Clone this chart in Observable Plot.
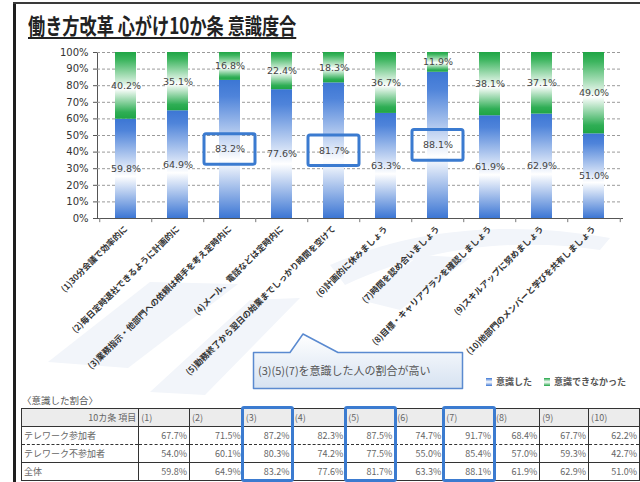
<!DOCTYPE html>
<html><head><meta charset="utf-8">
<script src="https://cdn.jsdelivr.net/npm/d3@7"></script>
<script src="https://cdn.jsdelivr.net/npm/@observablehq/plot@0.6"></script>
<style>
html,body{margin:0;padding:0;background:#fff;}
#page{position:relative;width:640px;height:482px;overflow:hidden;background:#fff;font-family:"Noto Sans CJK JP",sans-serif;}
#bg{position:absolute;left:0;top:0;}
#frameL{position:absolute;left:13px;top:2px;width:3px;height:480px;background:#1e1e1e;}
#frameT{position:absolute;left:13px;top:2px;width:627px;height:2px;background:#3a3a3a;}
#title{position:absolute;left:28px;top:8px;font-size:22px;font-weight:bold;color:#222;white-space:nowrap;text-decoration:underline;text-underline-offset:3px;transform:scaleX(0.78);transform-origin:left top;}
#chart{position:absolute;left:0;top:40px;}
#chart [aria-label^="y-axis"] text{font-size:10px;font-family:"DejaVu Sans",sans-serif;fill:#333;}
#chart [aria-label^="x-axis"] text{font-size:8.5px;font-weight:bold;fill:#333;}
#callout{position:absolute;left:0;top:0;pointer-events:none;}
#legend{position:absolute;left:486px;top:375px;font-size:9px;font-weight:bold;color:#555;white-space:nowrap;}
#legend .sw{display:inline-block;width:6px;height:8px;margin-right:4px;vertical-align:-1px;}
#legend .sw.blue{background:linear-gradient(#3c76d4,#fff,#3c76d4);}
#legend .sw.green{background:linear-gradient(#1fa545,#fff,#1fa545);margin-left:12px;}
#tableTitle{position:absolute;left:22px;top:393px;font-size:9.5px;color:#555;}
#tbl{position:absolute;left:21px;top:408px;border-collapse:collapse;table-layout:fixed;font-size:9px;color:#666;}
#tbl td{border:1px solid #333;padding:0 2px;height:17px;line-height:15px;white-space:nowrap;overflow:hidden;}
#tbl tr.h td{background:#ececec;border-bottom:1.5px solid #333;}
#tbl tr.h td.c0{text-align:right;}
#tbl td.num{text-align:right;}
#tbl tr.r1 td{border-bottom:1px dashed #333;}
#tbl tr.r2 td{border-top:1px dashed #333;border-bottom:1.5px solid #333;}
#tbl{border:1.5px solid #333;}
.hl{position:absolute;border:3px solid #3b7bd0;border-radius:3px;box-sizing:border-box;}
</style></head><body>
<svg width="0" height="0" style="position:absolute">
 <defs>
  <linearGradient id="gBlue" x1="0" y1="0" x2="0" y2="1">
   <stop offset="0" stop-color="#3c76d4"/><stop offset="0.12" stop-color="#4f84da"/><stop offset="0.58" stop-color="#ffffff"/><stop offset="1" stop-color="#3c76d4"/>
  </linearGradient>
  <linearGradient id="gGreen" x1="0" y1="0" x2="0" y2="1">
   <stop offset="0" stop-color="#1fa545"/><stop offset="0.12" stop-color="#3db55f"/><stop offset="0.55" stop-color="#ffffff"/><stop offset="0.9" stop-color="#2fae55"/><stop offset="1" stop-color="#1fa545"/>
  </linearGradient>
  <linearGradient id="gCall" x1="0" y1="0" x2="0" y2="1">
   <stop offset="0" stop-color="#ffffff"/><stop offset="1" stop-color="#d6e2f1"/>
  </linearGradient>
 </defs>
</svg>
<div id="page">
 <svg id="bg" width="640" height="482">
  <g fill="#f2f5fa">
   <polygon points="48,362 150,282 238,284 128,368"/>
   <polygon points="150,392 250,300 300,298 205,395"/>
   <path d="M330,265 C420,225 520,222 610,238 L600,250 C520,238 430,245 345,285 Z"/>
   <polygon points="360,300 420,255 470,258 400,310"/>
  </g>
 </svg>
 <div id="frameL"></div><div id="frameT"></div>
 <div id="title">働き方改革 心がけ10か条 意識度合</div>
 <div id="chart"></div>
 <svg id="callout" width="640" height="482">
  <path d="M253.5,352.5 L290,352.5 L303,334 L338,352.5 L462.5,352.5 L462.5,388.5 L253.5,388.5 Z" fill="url(#gCall)" stroke="#5a8ad0" stroke-width="1.5" stroke-linejoin="round"/>
  <text id="calloutText" x="258" y="375" font-size="11" fill="#555" font-family="Noto Sans CJK JP, sans-serif"></text>
 </svg>
 <div id="legend"></div>
 <div id="tableTitle"></div>
 <div id="tableWrap"></div>
</div>
<script>
const categories = [
  "(1)30分会議で効率的に",
  "(2)毎日定時退社できるように計画的に",
  "(3)業務指示・他部門への依頼は相手を考え定時内に",
  "(4)メール、電話などは定時内に",
  "(5)勤務終了から翌日の始業までしっかり時間を空けて",
  "(6)計画的に休みましょう",
  "(7)時間を認め合いましょう",
  "(8)目標・キャリアプランを確認しましょう",
  "(9)スキルアップに努めましょう",
  "(10)他部門のメンバーと学びを共有しましょう"
];
const aware    = [59.8, 64.9, 83.2, 77.6, 81.7, 63.3, 88.1, 61.9, 62.9, 51.0];
const notAware = [40.2, 35.1, 16.8, 22.4, 18.3, 36.7, 11.9, 38.1, 37.1, 49.0];
const highlightIdx = [2, 4, 6];
const yTicks = [0,10,20,30,40,50,60,70,80,90,100];
const seriesNames = ["意識した", "意識できなかった"];
const calloutText = "(3)(5)(7)を意識した人の割合が高い";
const tableTitle = "〈意識した割合〉";
const tableHeaderLabel = "10カ条 項目";
const tableCols = ["(1)","(2)","(3)","(4)","(5)","(6)","(7)","(8)","(9)","(10)"];
const tableRowNames = ["テレワーク参加者", "テレワーク不参加者", "全体"];
const teleworkYes = [67.7, 71.5, 87.2, 82.3, 87.5, 74.7, 91.7, 68.4, 67.7, 62.2];
const teleworkNo  = [54.0, 60.1, 80.3, 74.2, 77.5, 55.0, 85.4, 57.0, 59.3, 42.7];
const overall     = aware;

const idx = categories.map((_, i) => i);
const pct = v => v.toFixed(1) + "%";
const X = i => categories[i];

const chart = Plot.plot({
  width: 640, height: 360,
  marginLeft: 97, marginRight: 18, marginTop: 12, marginBottom: 182,
  style: {fontFamily: "Noto Sans CJK JP, sans-serif", fontSize: "8px", color: "#555", background: "transparent", overflow: "visible"},
  x: {domain: categories, paddingInner: 0.6, paddingOuter: 0.3, tickRotate: -45, tickSize: 0, tickPadding: 9, label: null, line: true},
  y: {domain: [0, 100], ticks: yTicks, tickFormat: d => d + "%", tickSize: 4, tickPadding: 5, label: null, line: true},
  marks: [
    Plot.ruleY(yTicks.filter(d => d > 0), {stroke: "#9a9a9a", strokeDasharray: "3,2", strokeWidth: 1}),
    Plot.barY(idx, {x: X, y1: 0, y2: i => aware[i], fill: "url(#gBlue)"}),
    Plot.barY(idx, {x: X, y1: i => aware[i], y2: 100, fill: "url(#gGreen)"}),
    Plot.ruleX(idx, {x: X, dx: -26.25, y1: 0, y2: -2.5, stroke: "#777"}),
    Plot.ruleX([9], {x: X, dx: 26.25, y1: 0, y2: -2.5, stroke: "#777"}),
    Plot.text(idx, {x: X, y: i => aware[i] / 2, text: i => pct(aware[i]), fontSize: 9.5, fill: "#444", fontFamily: "DejaVu Sans, sans-serif"}),
    Plot.text(idx, {x: X, y: i => aware[i] + notAware[i] / 2, text: i => pct(notAware[i]), fontSize: 9.5, fill: "#444", fontFamily: "DejaVu Sans, sans-serif"}),
    Plot.barY(highlightIdx, {x: X, y1: i => aware[i] / 2 - 9.2, y2: i => aware[i] / 2 + 9.2, fill: "none", stroke: "#3b7bd0", strokeWidth: 3, insetLeft: -15, insetRight: -15, rx: 2})
  ]
});
document.getElementById("chart").appendChild(chart);

document.getElementById("calloutText").textContent = calloutText;
document.getElementById("legend").innerHTML =
  `<span class="sw blue"></span>${seriesNames[0]}<span class="sw green"></span>${seriesNames[1]}`;
document.getElementById("tableTitle").textContent = tableTitle;

// table
const colWidths = [119, 52, 55, 50, 55, 50, 50, 51, 47, 50, 52];
const tbl = document.createElement("table");
tbl.id = "tbl";
const cg = document.createElement("colgroup");
colWidths.forEach(w => { const c = document.createElement("col"); c.style.width = w + "px"; cg.appendChild(c); });
tbl.appendChild(cg);
const addRow = (cls, cells, numeric) => {
  const tr = document.createElement("tr"); tr.className = cls;
  cells.forEach((t, j) => {
    const td = document.createElement("td"); td.textContent = t;
    if (j === 0) td.className = "c0"; else if (numeric) td.className = "num";
    tr.appendChild(td);
  });
  tbl.appendChild(tr);
};
addRow("h", [tableHeaderLabel, ...tableCols], false);
addRow("r1", [tableRowNames[0], ...teleworkYes.map(pct)], true);
addRow("r2", [tableRowNames[1], ...teleworkNo.map(pct)], true);
addRow("r3", [tableRowNames[2], ...overall.map(pct)], true);
document.getElementById("tableWrap").appendChild(tbl);

const page = document.getElementById("page");
const cells = tbl.rows[0].cells;
const pageRect = page.getBoundingClientRect();
highlightIdx.forEach(i => {
  const r = cells[i + 1].getBoundingClientRect();
  const d = document.createElement("div");
  d.className = "hl";
  d.style.left = (r.left - pageRect.left - 2) + "px";
  d.style.top = "406px";
  d.style.width = (r.width + 4) + "px";
  d.style.height = "76px";
  page.appendChild(d);
});
</script>
</body></html>
